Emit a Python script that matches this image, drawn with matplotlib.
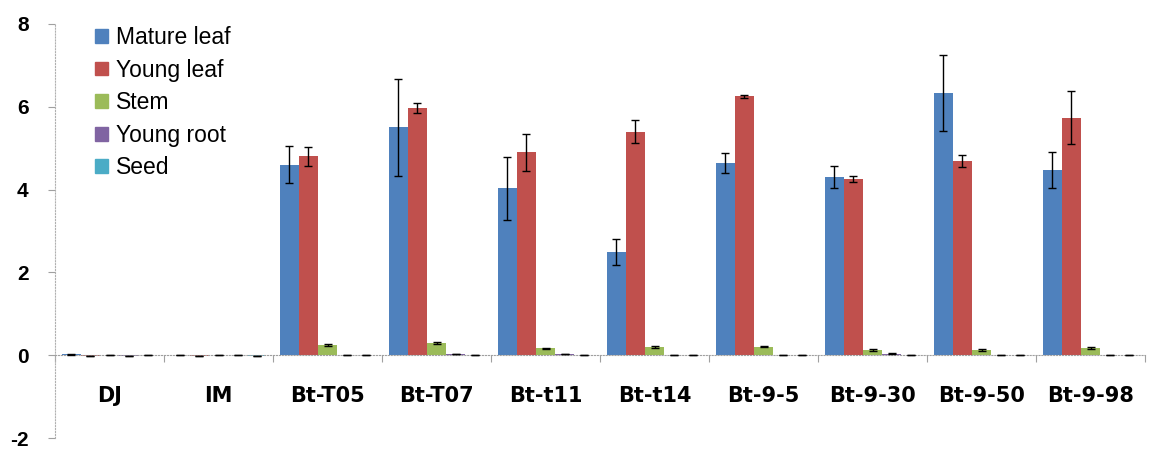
import numpy as np
import matplotlib
matplotlib.use("Agg")
import matplotlib.pyplot as plt
from matplotlib.patches import Patch

plt.rcParams["axes.unicode_minus"] = False

lines = ["DJ", "IM", "Bt-T05", "Bt-T07", "Bt-t11", "Bt-t14", "Bt-9-5", "Bt-9-30", "Bt-9-50", "Bt-9-98"]
tissues = ["Mature leaf", "Young leaf", "Stem", "Young root", "Seed"]
colors = ["#4F81BD", "#C0504D", "#9BBB59", "#8064A2", "#4BACC6"]

mature_leaf = [0.02, 0.01, 4.60, 5.50, 4.03, 2.49, 4.64, 4.30, 6.33, 4.48]
young_leaf = [-0.02, -0.01, 4.80, 5.97, 4.90, 5.40, 6.25, 4.26, 4.69, 5.74]
stem = [0.01, 0.01, 0.24, 0.29, 0.17, 0.20, 0.21, 0.13, 0.13, 0.17]
young_root = [-0.01, 0.01, 0.01, 0.02, 0.03, 0.01, 0.01, 0.04, 0.01, 0.01]
seed = [0.01, -0.01, 0.01, 0.01, 0.01, 0.01, 0.01, 0.01, 0.01, 0.01]

mature_err = [0.02, 0.0, 0.45, 1.17, 0.76, 0.31, 0.24, 0.27, 0.92, 0.43]
young_err = [0.01, 0.0, 0.24, 0.11, 0.45, 0.27, 0.04, 0.08, 0.15, 0.63]
stem_err = [0.0, 0.0, 0.02, 0.03, 0.01, 0.02, 0.01, 0.03, 0.02, 0.02]
root_err = [0.0, 0.0, 0.0, 0.0, 0.01, 0.0, 0.0, 0.01, 0.0, 0.0]
seed_err = [0.0, 0.0, 0.0, 0.0, 0.0, 0.0, 0.0, 0.0, 0.0, 0.0]

values = [mature_leaf, young_leaf, stem, young_root, seed]
errors = [mature_err, young_err, stem_err, root_err, seed_err]

fig = plt.figure(figsize=(11.61, 4.66), dpi=100)
ax = fig.add_axes([55 / 1161, 28 / 466, 1090 / 1161, 414 / 466])

x = np.arange(len(lines))
w = 0.175
for i in range(5):
    pos = x + 0.5 + (i - 2) * w
    ax.bar(pos, values[i], width=w, color=colors[i], label=tissues[i], zorder=2)
    ax.errorbar(pos, values[i], yerr=errors[i], fmt="none", ecolor="black",
                elinewidth=1.0, capsize=3, capthick=1.0, zorder=3)

ax.set_xlim(0, len(lines))
ax.set_ylim(-2, 8)

for s in ["top", "right"]:
    ax.spines[s].set_visible(False)
ax.spines["left"].set_color("#b0b0b0")
ax.spines["left"].set_linestyle(":")
ax.spines["bottom"].set_position(("data", 0))
ax.spines["bottom"].set_color("#a0a0a0")
ax.spines["bottom"].set_linestyle(":")

ax.set_yticks([-2, 0, 2, 4, 6, 8])
ax.tick_params(axis="y", length=5, color="#a0a0a0", labelsize=15, pad=14)
for t in ax.get_yticklabels():
    t.set_fontfamily("Liberation Sans")
    t.set_fontweight("bold")

ax.set_xticks(np.arange(len(lines) + 1))
ax.set_xticklabels([])
ax.set_xticks(x + 0.5, minor=True)
ax.set_xticklabels(lines, minor=True, fontsize=15, fontweight="bold")
ax.tick_params(axis="x", which="major", length=5, color="#a0a0a0", direction="out")
ax.tick_params(axis="x", which="minor", length=0, pad=22)

handles = [Patch(color=c) for c in colors]
leg = ax.legend(handles, tissues, loc="upper left", bbox_to_anchor=(0.018, 1.045),
                frameon=False, handlelength=0.55, handleheight=0.55,
                handletextpad=0.35, labelspacing=0.42,
                prop={"family": "Liberation Sans", "size": 16.5})

fig.savefig("out.png", dpi=100)
